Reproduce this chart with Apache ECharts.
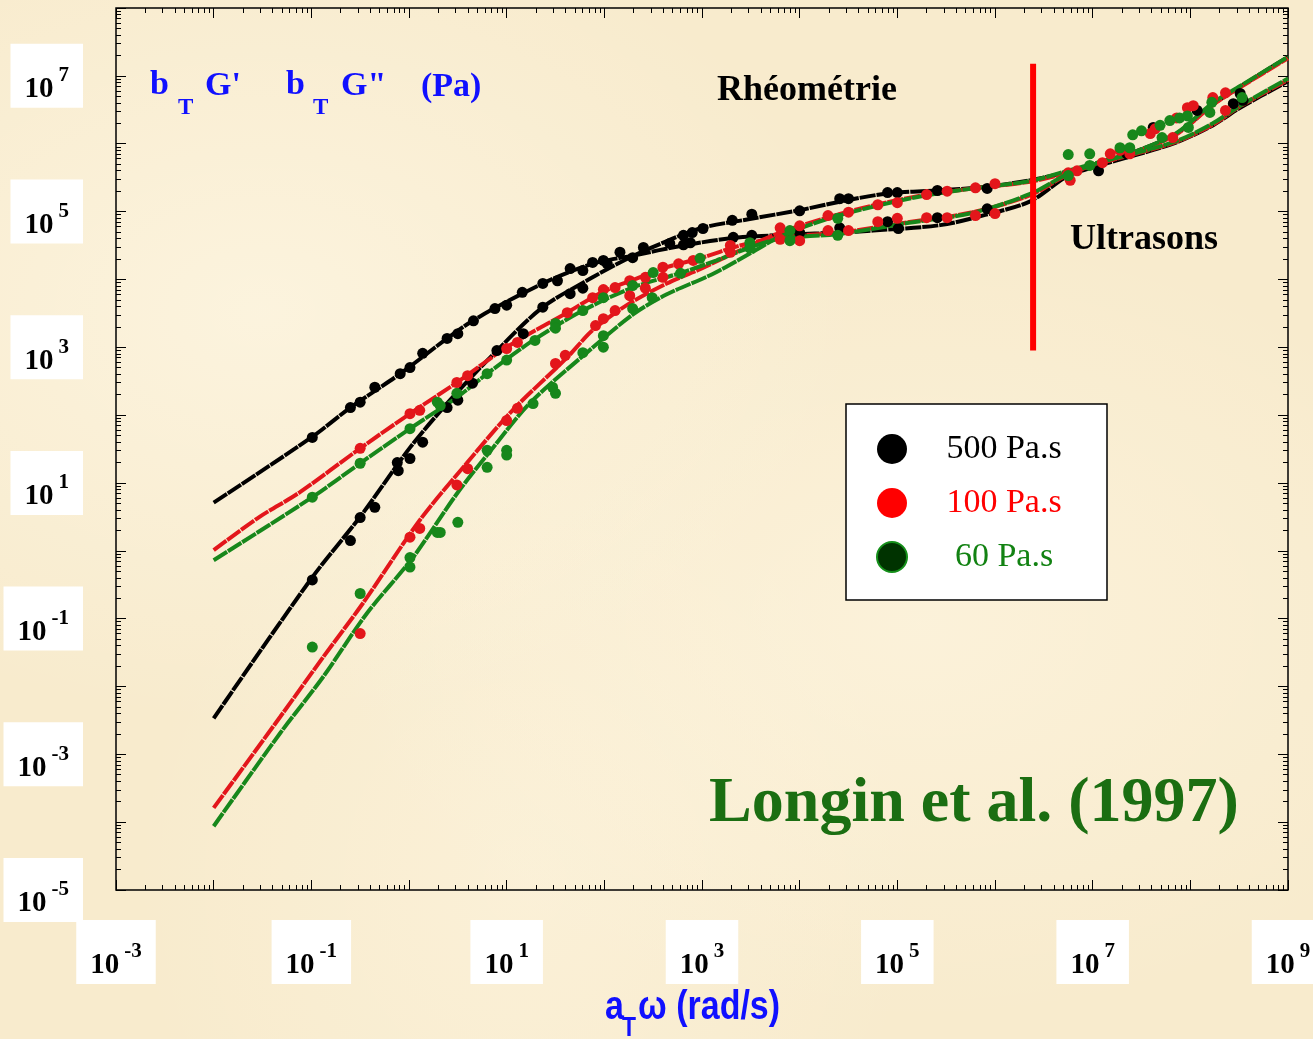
<!DOCTYPE html>
<html>
<head>
<meta charset="utf-8">
<script src="https://cdn.jsdelivr.net/npm/echarts@6/dist/echarts.min.js"></script>
<style>
html, body { margin: 0; padding: 0; }
body {
    background-color: #f8ebcd;
    background-image:
        radial-gradient(ellipse at 20% 30%, rgba(255,250,235,0.55), rgba(255,250,235,0) 40%),
        radial-gradient(ellipse at 70% 60%, rgba(255,248,230,0.5), rgba(255,248,230,0) 45%),
        radial-gradient(ellipse at 40% 85%, rgba(255,248,230,0.4), rgba(255,248,230,0) 35%);
}
#main { width: 1313px; height: 1039px; }
</style>
</head>
<body>
<div id="main"></div>
<script>
// all values are log10(aT*omega [rad/s]) , log10(bT*G [Pa])

// fitted model curves
var blackGpFit = [[-2,-2.47],[-1,-0.41],[-0.49,0.52],[0.01,1.52],[0.42,2.22],[0.9,2.95],[1.37,3.59],[1.88,4.03],[2.16,4.25],[2.47,4.46],[2.98,4.75],[3.49,4.89],[4.0,5.02],[4.5,5.17],[4.92,5.27],[5.4,5.31],[5.88,5.36],[6.36,5.46],[6.74,5.58],[7.07,5.72],[7.41,5.87],[7.86,6.15],[8.23,6.58],[8.51,6.84],[9.0,7.28]];
var blackGppFit = [[-2,0.71],[-1,1.67],[-0.6,2.11],[-0.09,2.61],[0.62,3.36],[1.37,3.94],[1.88,4.23],[2.29,4.35],[2.81,4.5],[3.32,4.61],[3.9,4.66],[4.41,4.69],[4.75,4.72],[5.44,4.8],[5.9,4.95],[6.36,5.15],[6.74,5.52],[7.07,5.68],[7.41,5.82],[7.86,6.02],[8.23,6.27],[8.51,6.53],[9.0,6.92]];
var redGpFit = [[-2,-3.79],[-1.32,-2.45],[-0.88,-1.57],[-0.47,-0.77],[0.11,0.45],[0.59,1.29],[1.06,2.07],[1.62,2.85],[1.88,3.25],[2.23,3.62],[2.64,3.94],[2.98,4.15],[3.39,4.43],[3.8,4.69],[4.28,4.91],[4.75,5.09],[5.26,5.24],[5.77,5.34],[6.36,5.44],[6.74,5.57],[7.07,5.71],[7.41,5.86],[7.86,6.14],[8.23,6.57],[8.51,6.83],[9.0,7.26]];
var redGppFit = [[-2,0.01],[-1.53,0.5],[-1.12,0.86],[-0.5,1.51],[0.01,2.02],[0.49,2.48],[1.0,3.0],[1.62,3.51],[1.96,3.8],[2.29,3.99],[2.64,4.18],[2.98,4.31],[3.39,4.5],[3.8,4.62],[4.41,4.69],[5.1,4.84],[5.77,4.99],[6.36,5.24],[6.74,5.54],[7.07,5.71],[7.41,5.84],[7.86,6.03],[8.23,6.28],[8.51,6.55],[9.0,6.94]];
var greenGpFit = [[-2,-4.06],[-1.32,-2.69],[-0.88,-1.86],[-0.43,-0.92],[0.04,-0.1],[0.49,0.84],[0.86,1.52],[1.24,2.18],[1.82,2.92],[2.29,3.48],[2.64,3.78],[3.11,4.08],[3.49,4.38],[3.8,4.63],[4.28,4.89],[4.75,5.07],[5.26,5.23],[5.77,5.34],[6.36,5.45],[6.74,5.6],[7.07,5.73],[7.41,5.87],[7.86,6.16],[8.23,6.6],[8.51,6.85],[9.0,7.28]];
var greenGppFit = [[-2,-0.14],[-0.99,0.79],[-0.5,1.29],[0.01,1.8],[0.49,2.26],[0.8,2.61],[1.27,3.1],[1.78,3.54],[2.29,3.88],[2.77,4.09],[3.15,4.28],[3.49,4.47],[3.8,4.6],[4.41,4.67],[5.1,4.83],[5.77,4.98],[6.36,5.26],[6.74,5.55],[7.07,5.72],[7.41,5.85],[7.86,6.04],[8.23,6.3],[8.51,6.56],[9.0,6.96]];

// measured points (rheometry)
var blackGpPts = [[-0.99,-0.43],[-0.6,0.15],[-0.5,0.49],[-0.35,0.64],[-0.12,1.3],[-0.11,1.18],[0.01,1.36],[0.14,1.6],[0.39,2.11],[0.5,2.22],[0.65,2.47],[0.9,2.95],[1.17,3.2],[1.37,3.59],[1.65,3.79],[1.78,3.87],[2.03,4.23],[2.16,4.4],[2.4,4.47],[2.67,4.53],[2.81,4.65],[2.9,4.69],[3.01,4.75],[3.31,4.87],[3.51,4.96],[4.0,5.01],[4.41,5.19],[4.5,5.19],[4.9,5.28],[5.0,5.28],[5.41,5.31],[5.92,5.34]];
var blackGppPts = [[-0.99,1.67],[-0.6,2.11],[-0.5,2.19],[-0.35,2.41],[-0.09,2.61],[0.01,2.7],[0.14,2.91],[0.39,3.13],[0.5,3.2],[0.66,3.39],[0.88,3.57],[1.0,3.62],[1.16,3.81],[1.37,3.94],[1.52,3.98],[1.65,4.16],[1.78,4.13],[1.88,4.25],[1.99,4.28],[2.29,4.32],[2.81,4.51],[2.88,4.54],[3.32,4.62],[3.51,4.65],[4.0,4.69],[4.41,4.76],[4.9,4.85],[5.01,4.75],[5.41,4.91],[5.92,5.04]];
var redGpPts = [[-0.5,-1.22],[0.01,0.2],[0.11,0.33],[0.49,0.97],[0.6,1.21],[1.0,1.92],[1.11,2.1],[1.5,2.76],[1.6,2.88],[1.91,3.32],[1.99,3.42],[2.11,3.54],[2.26,3.76],[2.42,3.87],[2.6,4.03],[3.29,4.4],[3.8,4.76],[4.0,4.79],[4.29,4.94],[4.5,4.99],[4.8,5.1],[5.0,5.13],[5.3,5.25],[5.51,5.3],[5.8,5.35],[6.0,5.41]];
var redGppPts = [[-0.5,1.51],[0.01,2.02],[0.11,2.07],[0.49,2.48],[0.6,2.58],[1.0,2.98],[1.11,3.07],[1.62,3.51],[1.88,3.73],[1.99,3.85],[2.11,3.88],[2.26,3.98],[2.42,4.03],[2.6,4.18],[2.76,4.23],[2.91,4.28],[3.29,4.5],[3.8,4.59],[4.0,4.57],[4.29,4.72],[4.5,4.72],[4.8,4.85],[5.0,4.9],[5.3,4.91],[5.51,4.91],[5.8,4.94],[6.0,4.97]];
var greenGpPts = [[-0.99,-1.42],[-0.5,-0.63],[0.01,-0.1],[0.01,-0.24],[0.29,0.27],[0.32,0.27],[0.5,0.42],[0.8,1.48],[0.8,1.23],[1.0,1.48],[1.0,1.41],[1.27,2.17],[1.47,2.41],[1.5,2.32],[1.78,2.92],[1.99,3.17],[1.99,3.0],[2.29,3.57],[2.49,3.73],[3.49,4.54],[3.9,4.72],[4.39,4.9]];
var greenGppPts = [[-0.99,0.79],[-0.5,1.29],[0.01,1.8],[0.29,2.19],[0.32,2.14],[0.49,2.32],[0.8,2.61],[1.0,2.81],[1.29,3.1],[1.5,3.35],[1.5,3.28],[1.78,3.54],[1.99,3.73],[2.29,3.91],[2.5,4.1],[2.78,4.09],[2.98,4.31],[3.49,4.46],[3.9,4.57],[4.39,4.65]];

// measured points (ultrasonics)
var blackUsPts = [[7.06,5.6],[7.35,5.85],[7.62,6.24],[8.07,6.49],[8.44,6.59],[8.51,6.74],[8.54,6.64]];
var redUsPts = [[6.75,5.57],[6.84,5.6],[6.77,5.46],[7.1,5.72],[7.18,5.85],[7.28,5.9],[7.38,5.85],[7.59,6.15],[7.64,6.22],[7.82,6.09],[7.86,6.38],[7.97,6.53],[8.03,6.56],[8.23,6.68],[8.36,6.75],[8.36,6.49]];
var greenUsPts = [[6.75,5.84],[6.97,5.85],[6.75,5.53],[6.97,5.68],[7.28,5.94],[7.38,5.94],[7.41,6.13],[7.5,6.19],[7.69,6.27],[7.71,6.09],[7.79,6.34],[7.89,6.38],[7.97,6.41],[7.98,6.24],[8.2,6.46],[8.22,6.61],[8.53,6.68]];

// boundary rheometry / ultrasons
var boundary = [[6.39,2.95],[6.39,7.18]];

// axes (decades)
var xRange = [-3, 9];
var yRange = [-5, 8];
var xLabels = [-3, -1, 1, 3, 5, 7, 9];
var yLabels = [-5, -3, -1, 1, 3, 5, 7];

var names = ['500 Pa.s', '100 Pa.s', '60 Pa.s'];

var SERIF = '"Liberation Serif", "Times New Roman", serif';
var SANS = '"Liberation Sans", Arial, sans-serif';
var BLUE = '#1010ff';

function minorTicks(lo, hi) {
    var out = [];
    for (var d = lo; d < hi; d++) {
        for (var k = 2; k <= 9; k++) out.push(d + Math.log10(k));
    }
    return out;
}

var tickLabel = {
    show: true,
    formatter: function (v) { return '{b|10}{e|' + Math.round(v) + '}'; },
    backgroundColor: '#ffffff',
    padding: [26, 14, 10, 14],
    rich: {
        b: { fontFamily: SERIF, fontWeight: 'bold', fontSize: 29, color: '#000', lineHeight: 28, padding: [12, 0, 0, 0] },
        e: { fontFamily: SERIF, fontWeight: 'bold', fontSize: 21, color: '#000', lineHeight: 20, padding: [0, 0, 16, 5] }
    }
};

function axis(pos, range, extra) {
    var a = {
        type: 'value', position: pos, min: range[0], max: range[1], interval: 1,
        axisLine: { show: false, onZero: false }, splitLine: { show: false },
        axisLabel: { show: false }, axisTick: { show: false }
    };
    for (var k in extra) a[k] = extra[k];
    return a;
}
var majorTick = { show: true, inside: true, length: 10, lineStyle: { color: '#000', width: 1 } };
function minorTick(range) {
    return { show: true, inside: true, length: 5, customValues: minorTicks(range[0], range[1]), lineStyle: { color: '#000', width: 1 } };
}

var xAxes = [
    axis('bottom', xRange, { axisTick: majorTick }),
    axis('bottom', xRange, { interval: 2, axisLabel: Object.assign({ margin: 30, customValues: xLabels }, tickLabel) }),
    axis('bottom', xRange, { axisTick: minorTick(xRange) }),
    axis('top', xRange, { axisTick: majorTick }),
    axis('top', xRange, { axisTick: minorTick(xRange) })
];
var yAxes = [
    axis('left', yRange, { axisTick: majorTick }),
    axis('left', yRange, { interval: 2, axisLabel: Object.assign({ margin: 33, customValues: yLabels }, tickLabel) }),
    axis('left', yRange, { axisTick: minorTick(yRange) }),
    axis('right', yRange, { axisTick: majorTick }),
    axis('right', yRange, { axisTick: minorTick(yRange) })
];

function fitLine(name, data, color) {
    return {
        name: name, type: 'line', data: data, smooth: 0.3, showSymbol: false, silent: true, z: 2,
        lineStyle: { color: color, width: 4, type: [16, 1] }
    };
}
function dots(name, data, color) {
    return { name: name, type: 'scatter', data: data, symbolSize: 11, itemStyle: { color: color, opacity: 1 }, z: 3 };
}

var BLACK = '#000000', RED = '#e3161b', GREEN = '#17871b';

var series = [
    dots(names[0], blackGpPts.concat(blackGppPts, blackUsPts), BLACK),
    dots(names[1], redGpPts.concat(redGppPts, redUsPts), RED),
    dots(names[2], greenGpPts.concat(greenGppPts, greenUsPts), GREEN),
    fitLine(names[0], blackGpFit, BLACK),
    fitLine(names[0], blackGppFit, BLACK),
    fitLine(names[1], redGpFit, RED),
    fitLine(names[1], redGppFit, RED),
    fitLine(names[2], greenGpFit, GREEN),
    fitLine(names[2], greenGppFit, GREEN),
    {
        type: 'line', data: boundary, showSymbol: false, silent: true, z: 4,
        lineStyle: { color: '#ff0000', width: 6 }
    }
];

function txt(x, y, text, font, color, align, sx) {
    return {
        type: 'text', x: x, y: y, silent: true, z: 10, scaleX: sx || 1,
        style: {
            text: text, font: font, fill: color,
            align: align || 'left', textAlign: align || 'left',
            verticalAlign: 'middle', textVerticalAlign: 'middle'
        }
    };
}

var F_ANN = 'bold 34px ' + SERIF;
var F_SUB = 'bold 23px ' + SERIF;
var F_AX = 'bold 40px ' + SANS;
var F_AXS = 'bold 27px ' + SANS;

var graphics = [
    // y quantity
    txt(150, 85, 'b', F_ANN, BLUE), txt(178, 108, 'T', F_SUB, BLUE), txt(205, 86, "G'", F_ANN, BLUE),
    txt(286, 85, 'b', F_ANN, BLUE), txt(313, 108, 'T', F_SUB, BLUE), txt(341, 86, 'G"', F_ANN, BLUE),
    txt(421, 87, '(Pa)', F_ANN, BLUE),
    // x quantity
    txt(605, 1008, 'a', F_AX, BLUE, 'left', 0.85), txt(622, 1029, 'T', F_AXS, BLUE, 'left', 0.85),
    txt(638, 1008, 'ω (rad/s)', F_AX, BLUE, 'left', 0.85),
    // annotations
    txt(807, 91, 'Rhéométrie', 'bold 36px ' + SERIF, '#000', 'center'),
    txt(1144, 240, 'Ultrasons', 'bold 36px ' + SERIF, '#000', 'center'),
    txt(974, 804, 'Longin et al. (1997)', 'bold 64px ' + SERIF, '#1b6e12', 'center')
];

var chart = echarts.init(document.getElementById('main'));
chart.setOption({
    animation: false,
    backgroundColor: 'transparent',
    grid: {
        left: 116, right: 25, top: 8, bottom: 149, containLabel: false, outerBoundsMode: 'none',
        show: true, borderColor: '#000', borderWidth: 1.5, backgroundColor: 'transparent'
    },
    xAxis: xAxes,
    yAxis: yAxes,
    legend: {
        orient: 'vertical', left: 846, top: 404,
        padding: [28, 11, 26, 30],
        itemWidth: 30, itemHeight: 30, itemGap: 20,
        icon: 'circle', selectedMode: false,
        backgroundColor: '#ffffff', borderColor: '#000', borderWidth: 1.5,
        formatter: function (n) { return '{t|' + n + '}'; },
        textStyle: {
            fontFamily: SERIF, fontSize: 34,
            rich: { t: { width: 184, align: 'center', fontFamily: SERIF, fontSize: 34, lineHeight: 30 } }
        },
        data: [
            { name: names[0], textStyle: { color: '#000000' }, itemStyle: { color: '#000000' } },
            { name: names[1], textStyle: { color: '#ff0000' }, itemStyle: { color: '#ff0000' } },
            { name: names[2], textStyle: { color: '#128212' }, itemStyle: { color: '#003300', borderColor: '#15901a', borderWidth: 2 } }
        ]
    },
    graphic: graphics,
    series: series
});
</script>
</body>
</html>
